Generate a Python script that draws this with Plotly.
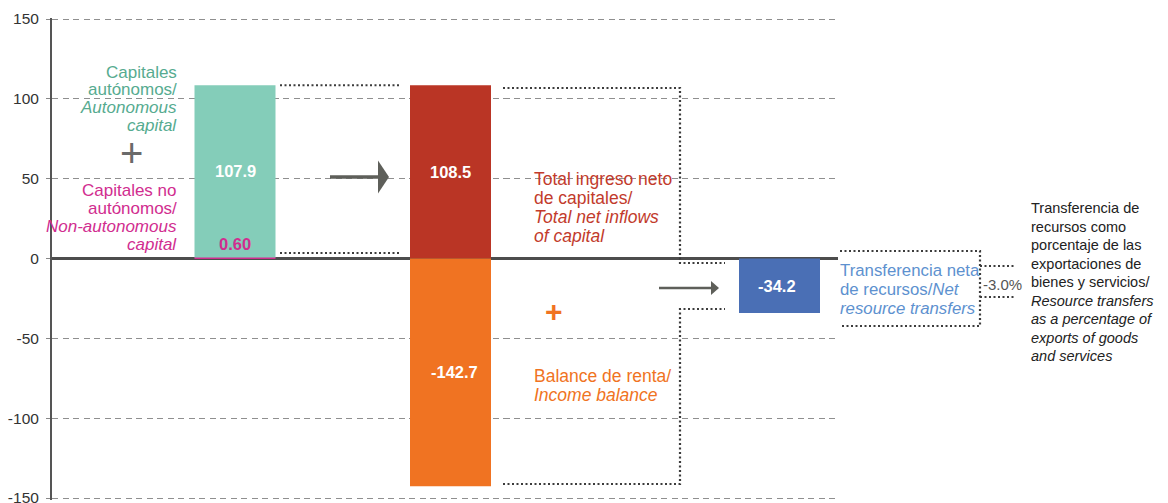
import plotly.graph_objects as go

# ---- data -------------------------------------------------------------
autonomous_capital = 107.9
non_autonomous_capital = 0.60
total_net_inflows = 108.5
income_balance = -142.7
net_resource_transfers = -34.2
transfers_pct_exports = -3.0

y_ticks = [150, 100, 50, 0, -50, -100, -150]

# ---- layout constants -------------------------------------------------
W, H = 1168, 503
L, R, T, B = 52, 330, 18, 3
PW, PH = W - L - R, H - T - B
Y_RANGE = [-151.25, 150.63]
BAR_W = 81
X_AUTO, X_TOTAL, X_NET = 183, 398.5, 727.5   # bar centres (x axis in px units)

FONT = "Liberation Sans, Arial, sans-serif"

TEAL, TEAL_TXT = "#84cdb9", "#56ab90"
MAGENTA = "#d12d8f"
RED, RED_TXT = "#ba3525", "#c23b2c"
ORANGE = "#f07322"
BLUE, BLUE_TXT = "#4a6fb5", "#5d91cf"
ARROW = "#5e5f5a"
DOT = "#3c3c3c"
DOT_DASH = "2px,2.5px"


def px(x):
    """page x (px) -> paper fraction"""
    return (x - L) / PW


def py(y):
    """page y (px) -> paper fraction"""
    return (H - B - y) / PH


fig = go.Figure()

# stacked capital bar: non-autonomous sliver under autonomous block
fig.add_bar(x=[X_AUTO], y=[non_autonomous_capital], base=[0], width=BAR_W,
            marker=dict(color=MAGENTA, line_width=0))
fig.add_bar(x=[X_AUTO], y=[autonomous_capital], base=[non_autonomous_capital],
            width=BAR_W, marker=dict(color=TEAL, line_width=0))
# total inflows and income balance
fig.add_bar(x=[X_TOTAL], y=[total_net_inflows], base=[0], width=BAR_W,
            marker=dict(color=RED, line_width=0))
fig.add_bar(x=[X_TOTAL], y=[income_balance], base=[0], width=BAR_W,
            marker=dict(color=ORANGE, line_width=0))
# net resource transfers
fig.add_bar(x=[X_NET], y=[net_resource_transfers], base=[0], width=BAR_W,
            marker=dict(color=BLUE, line_width=0))

ann = []


def label(text, x, y, color, size=17, anchor="left", yref="paper", family=FONT):
    """x in page px; y either paper fraction or data value (yref='y')"""
    ann.append(dict(text=text, x=px(x), y=y, xref="paper", yref=yref, xanchor=anchor,
                    yanchor="middle", showarrow=False,
                    font=dict(family=family, size=size, color=color)))


def block(lines, x, y0, step, color, anchor, size=17):
    for i, t in enumerate(lines):
        label(t, x, py(y0 + i * step), color, size, anchor)


# value labels on bars
label(f"<b>{autonomous_capital:.1f}</b>", X_AUTO + L,
      non_autonomous_capital + autonomous_capital / 2, "white", 16.5, "center", "y")
label(f"<b>{total_net_inflows:.1f}</b>", X_TOTAL + L,
      total_net_inflows / 2, "white", 16.5, "center", "y")
label(f"<b>{income_balance:.1f}</b>", X_TOTAL + L + 4,
      income_balance / 2, "white", 16.5, "center", "y")
label(f"<b>{net_resource_transfers:.1f}</b>", X_NET + L - 3,
      net_resource_transfers / 2, "white", 16.5, "center", "y")
label(f"<b>{non_autonomous_capital:.2f}</b>", X_AUTO + L,
      non_autonomous_capital + 8.5, MAGENTA, 16.5, "center", "y")

# series descriptions
block(["Capitales", "autónomos/", "<i>Autonomous</i>", "<i>capital</i>"],
      179, 72, 17.8, TEAL_TXT, "right")
block(["Capitales no", "autónomos/", "<i>Non-autonomous</i>", "<i>capital</i>"],
      179, 191, 17.8, MAGENTA, "right")
block(["Total ingreso neto", "de capitales/", "<i>Total net inflows</i>", "<i>of capital</i>"],
      532, 179, 19, RED_TXT, "left", 17.5)
block(["Balance de renta/", "<i>Income balance</i>"], 532, 376, 19, ORANGE, "left", 17.5)
block(["Transferencia neta", "de recursos/<i>Net</i>", "<i>resource transfers</i>"],
      838, 270, 19, BLUE_TXT, "left", 16.8)
label(f"{transfers_pct_exports:.1f}%", 1002, py(284), "#555555", 15, "center")
block(["Transferencia de", "recursos como", "porcentaje de las", "exportaciones de",
       "bienes y servicios/", "<i>Resource transfers</i>", "<i>as a percentage of</i>",
       "<i>exports of goods</i>", "<i>and services</i>"],
      1029, 208, 18.5, "#222222", "left", 14.5)

# operator signs
label("+", 131, py(153), "#6a6a6a", 40, "center")
label("<b>+</b>", 554, py(311), ORANGE, 30, "center")

shapes = []


def dotted(points, yref="paper"):
    path = "M" + " L".join(f"{px(x)},{(py(y) if yref == 'paper' else y)}" for x, y in points)
    shapes.append(dict(type="path", path=path, xref="paper", yref=yref,
                       line=dict(color=DOT, width=2.2, dash=DOT_DASH)))


top = non_autonomous_capital + autonomous_capital
# connectors between capital bar and total bar
dotted([(280, top), (401, top)], "y")
dotted([(280, 253), (401, 253)])
# bracket from total inflows / income balance to net transfers
dotted([(503, 88), (680, 88), (680, 263), (725, 263)])
dotted([(503, 484), (680, 484), (680, 309), (725, 309)])
# bracket around net transfer label
dotted([(840, 251), (980, 251), (980, 326), (840, 326)])
dotted([(980, 266), (1016, 266)])
dotted([(980, 297), (1016, 297)])


def arrow(x0, x1, y, shaft, head_len, head_h):
    shapes.append(dict(type="line", xref="paper", yref="paper",
                       x0=px(x0), x1=px(x1 - head_len + 1), y0=py(y), y1=py(y),
                       line=dict(color=ARROW, width=shaft)))
    shapes.append(dict(type="path", xref="paper", yref="paper",
                       path=f"M{px(x1 - head_len)},{py(y - head_h / 2)} L{px(x1)},{py(y)} "
                            f"L{px(x1 - head_len)},{py(y + head_h / 2)} Z",
                       fillcolor=ARROW, line=dict(width=0)))


arrow(330, 389, 177, 3.5, 11, 33)
arrow(659, 719, 288, 2.5, 8, 14)

fig.update_layout(
    width=W, height=H,
    margin=dict(l=L, r=R, t=T, b=B, autoexpand=False),
    paper_bgcolor="white", plot_bgcolor="white",
    barmode="overlay", showlegend=False,
    annotations=ann, shapes=shapes,
    font=dict(family=FONT, color="#333333"),
    xaxis=dict(range=[0, PW], visible=False, fixedrange=True),
    yaxis=dict(range=Y_RANGE, tickvals=y_ticks, ticktext=[str(v) for v in y_ticks],
               showgrid=True, gridcolor="#8f8f8f", gridwidth=1, griddash="6px,4.5px",
               zeroline=True, zerolinecolor="#4d4d4d", zerolinewidth=3,
               showline=True, linecolor="#555555", linewidth=2,
               ticks="outside", ticklen=4, tickcolor="#888888",
               ticklabelstandoff=4, ticklabeloverflow="allow", automargin=False,
               tickfont=dict(family=FONT, size=15.5, color="#333333"),
               fixedrange=True),
)

fig.write_html("out.html")
